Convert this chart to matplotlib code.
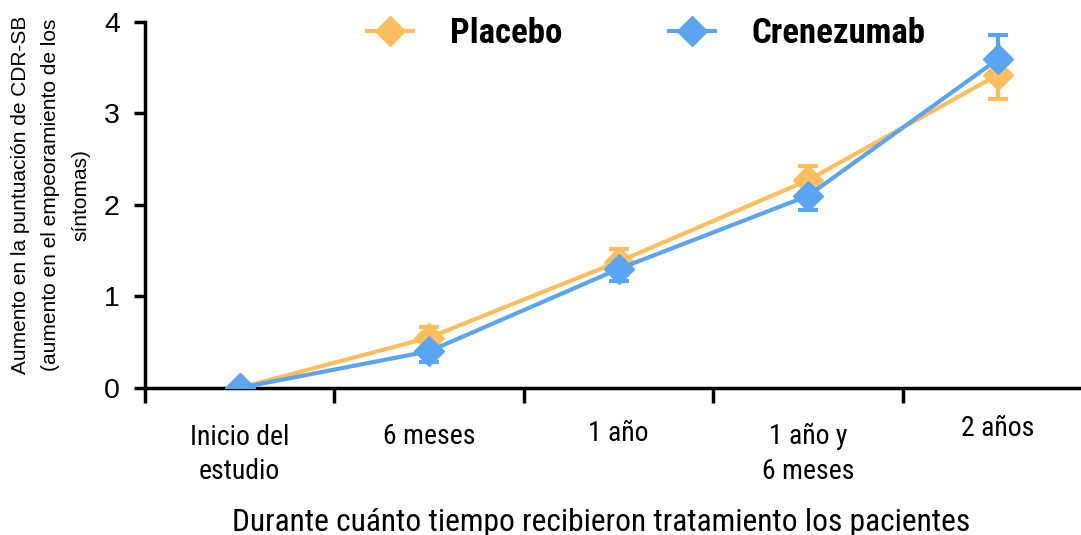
import matplotlib.pyplot as plt
from matplotlib import transforms

# Datos
periodos = ["Inicio del\nestudio", "6 meses", "1 año", "1 año y\n6 meses", "2 años"]
placebo = [0.0, 0.55, 1.38, 2.27, 3.42]
placebo_err_sup = [0.0, 0.12, 0.14, 0.16, 0.0]
placebo_err_inf = [0.0, 0.0, 0.0, 0.0, 0.26]
crenezumab = [0.0, 0.40, 1.30, 2.10, 3.59]
crenezumab_err_sup = [0.0, 0.0, 0.0, 0.0, 0.27]
crenezumab_err_inf = [0.0, 0.12, 0.13, 0.16, 0.0]

naranja = "#FFBE5C"
azul = "#5AA5F2"
plt.rcParams["font.family"] = ["Liberation Sans", "DejaVu Sans"]
fuente_estrecha = ["Roboto Condensed", "DejaVu Sans"]

fig = plt.figure(figsize=(10.81, 5.35), dpi=100)
ax = fig.add_axes([0.134, 0.275, 0.866, 0.684])

x = list(range(len(periodos)))
ax.errorbar(x, placebo, yerr=[placebo_err_inf, placebo_err_sup], fmt="none", ecolor=naranja,
            capsize=7, capthick=3, elinewidth=3, zorder=2)
ax.errorbar(x, crenezumab, yerr=[crenezumab_err_inf, crenezumab_err_sup], fmt="none", ecolor=azul,
            capsize=7, capthick=3, elinewidth=3, zorder=2)
ax.plot(x, placebo, color=naranja, lw=3, marker="D", markersize=15.5, label="Placebo", zorder=3)
ax.plot(x, crenezumab, color=azul, lw=3, marker="D", markersize=15.5, label="Crenezumab", zorder=4)

ax.set_xlim(-0.48, 4.44)
ax.set_ylim(0, 4)
ax.set_yticks([0, 1, 2, 3, 4])
ax.set_xticks([-0.5, 0.5, 1.5, 2.5, 3.5])
ax.set_xticklabels([])
ax.spines["top"].set_visible(False)
ax.spines["right"].set_visible(False)
ax.spines["left"].set_linewidth(2.5)
ax.spines["bottom"].set_linewidth(2.5)
ax.tick_params(axis="y", length=8, width=2.5, labelsize=20.5, pad=10)
ax.tick_params(axis="x", length=11, width=2.5)

# Etiquetas de las categorías (alturas ligeramente distintas como en el original)
trans = transforms.blended_transform_factory(ax.transData, ax.transAxes)
alturas = [-0.098, -0.096, -0.087, -0.096, -0.074]
for xi, texto, yy in zip(x, periodos, alturas):
    ax.text(xi, yy, texto, transform=trans, ha="center", va="top", fontsize=20,
            family=fuente_estrecha, linespacing=1.35)

fig.text(0.556, 0.024, "Durante cuánto tiempo recibieron tratamiento los pacientes",
         ha="center", va="center", fontsize=22.7, family=fuente_estrecha)
fig.text(0.047, 0.635, "Aumento en la puntuación de CDR-SB\n(aumento en el empeoramiento de los\nsíntomas)",
         rotation=90, ha="center", va="center", fontsize=15, linespacing=1.75)

ax.legend(loc="center", bbox_to_anchor=(0.598, 0.938), bbox_transform=fig.transFigure,
          ncol=2, frameon=False, handlelength=1.33, columnspacing=3.05, handletextpad=1.07,
          prop={"family": fuente_estrecha, "weight": "bold", "size": 25})

fig.savefig("out.png", dpi=100)
